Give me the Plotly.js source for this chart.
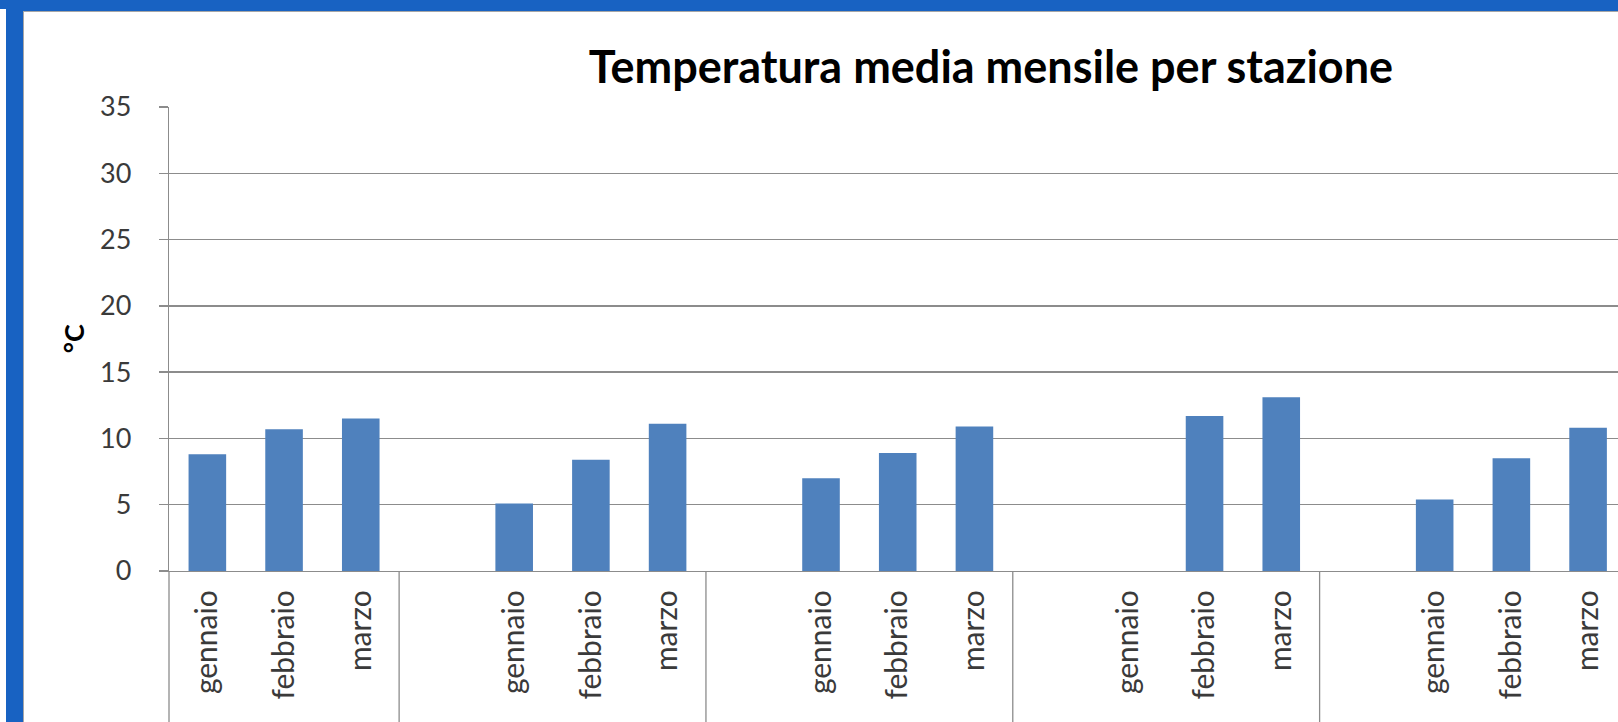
<!DOCTYPE html>
<html>
<head>
<meta charset="utf-8">
<script src="https://cdn.plot.ly/plotly-3.0.1.min.js"></script>
<style>
  html, body { margin: 0; padding: 0; width: 1618px; height: 722px; overflow: hidden; background: #1862C2; }
  #leftwhite { position: absolute; left: 0; top: 9px; width: 6px; height: 713px; background: #ffffff; }
  #chart { position: absolute; left: 23px; top: 11px; width: 1594px; height: 710px; border-left: 1px solid #a6a6a6; border-top: 1px solid #a6a6a6; background: #ffffff; }
</style>
</head>
<body>
<div id="leftwhite"></div>
<div id="chart"></div>
<script>
// ---- data ----
const chartTitle = "Temperatura media mensile per stazione";
const yAxisTitle = "°C";
const monthLabels = [
  "gennaio", "febbraio", "marzo",
  "", "gennaio", "febbraio", "marzo",
  "", "gennaio", "febbraio", "marzo",
  "", "gennaio", "febbraio", "marzo",
  "", "gennaio", "febbraio", "marzo"
];
const temperature = [
  8.8, 10.7, 11.5,
  null, 5.1, 8.4, 11.1,
  null, 7.0, 8.9, 10.9,
  null, null, 11.7, 13.1,
  null, 5.4, 8.5, 10.8
];
const groupSizes = [3, 4, 4, 4, 4];
const yTicks = [0, 5, 10, 15, 20, 25, 30, 35];

// ---- build ----
const xIdx = monthLabels.map((_, i) => i);
const xRange = [-0.5, 18.39];

const boundaries = [-0.5];
let acc = 0;
groupSizes.forEach(n => { acc += n; boundaries.push(acc - 0.5); });

const shapes = boundaries.map(b => ({
  type: 'line', xref: 'paper', yref: 'paper',
  x0: (b - xRange[0]) / (xRange[1] - xRange[0]),
  x1: (b - xRange[0]) / (xRange[1] - xRange[0]),
  y0: 0, y1: -0.4,
  line: { color: '#8c8c8c', width: 1.3 }
}));

const trace = {
  type: 'bar',
  x: xIdx,
  y: temperature,
  width: 0.49,
  marker: { color: '#4F81BD', line: { width: 0 } },
  hoverinfo: 'x+y'
};

const font = "Lato, 'Open Sans', sans-serif";
const layout = {
  width: 1594, height: 710,
  margin: { l: 145, r: 0, t: 95, b: 151, pad: 0 },
  paper_bgcolor: '#ffffff',
  plot_bgcolor: '#ffffff',
  showlegend: false,
  font: { family: font, color: '#3a3a3a' },
  title: {
    text: chartTitle,
    font: { family: font, size: 45, color: '#000000', weight: 'bold' },
    xref: 'container', yref: 'container',
    x: 967 / 1594, xanchor: 'center',
    y: 1 - 55 / 710, yanchor: 'middle'
  },
  xaxis: {
    range: xRange,
    tickmode: 'array',
    tickvals: xIdx,
    ticktext: monthLabels,
    tickangle: -90,
    ticks: '',
    ticklabelstandoff: 6,
    tickfont: { family: font, size: 30, color: '#3a3a3a' },
    showgrid: false,
    zeroline: false,
    showline: true,
    linecolor: '#8c8c8c',
    linewidth: 1.3,
    fixedrange: true
  },
  yaxis: {
    range: [0, 35],
    tickmode: 'array',
    tickvals: yTicks,
    ticks: 'outside',
    ticklen: 9,
    tickcolor: '#8c8c8c',
    tickwidth: 1.3,
    ticklabelstandoff: 22,
    tickfont: { family: font, size: 27, color: '#3a3a3a' },
    showgrid: true,
    gridcolor: '#8c8c8c',
    gridwidth: 1.3,
    zeroline: false,
    showline: true,
    linecolor: '#8c8c8c',
    linewidth: 1.3,
    fixedrange: true
  },
  shapes: shapes,
  annotations: [{
    text: yAxisTitle,
    xref: 'paper', yref: 'paper',
    x: (73 - 24 - 145) / 1449, y: (571 - 339) / 464.5,
    xanchor: 'center', yanchor: 'middle',
    textangle: -90,
    showarrow: false,
    font: { family: font, size: 27, color: '#000000', weight: 'bold' }
  }]
};

Plotly.newPlot('chart', [trace], layout, { displayModeBar: false, staticPlot: true });
</script>
</body>
</html>
